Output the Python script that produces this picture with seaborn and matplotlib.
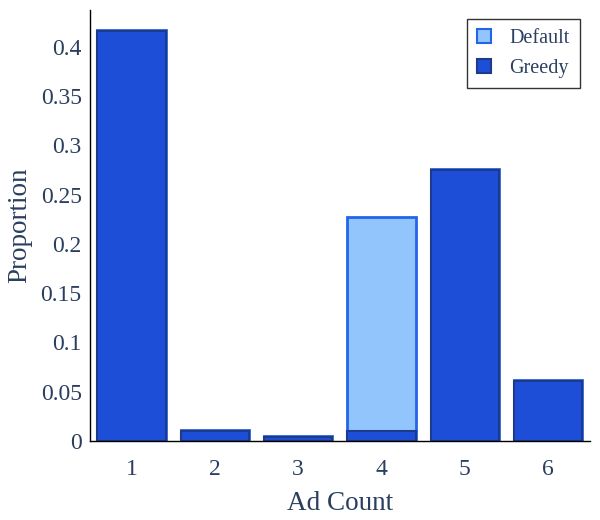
import matplotlib
matplotlib.use("Agg")
import matplotlib.pyplot as plt
import seaborn as sns
import pandas as pd
from matplotlib.patches import Patch

ad_counts = ["1", "2", "3", "4", "5", "6"]
default_vals = [0.417, 0.011, 0.005, 0.227, 0.276, 0.062]
greedy_vals = [0.416, 0.010, 0.004, 0.010, 0.275, 0.061]

sns.set_style("white")
plt.rcParams["font.family"] = ["Liberation Serif", "DejaVu Serif"]
text_color = "#2a3f5f"

fig = plt.figure(figsize=(6, 5.2), dpi=100)
ax = fig.add_axes([0.15, 0.152, 0.833, 0.829])

df_d = pd.DataFrame({"Ad Count": ad_counts, "Proportion": default_vals})
df_g = pd.DataFrame({"Ad Count": ad_counts, "Proportion": greedy_vals})

default_face, default_edge = "#93c5fd", "#2563eb"
greedy_face, greedy_edge = "#1d4ed8", "#1e3a8a"

sns.barplot(data=df_d, x="Ad Count", y="Proportion", order=ad_counts,
            color=default_face, edgecolor=default_edge, linewidth=2,
            width=0.82, saturation=1, ax=ax)
sns.barplot(data=df_g, x="Ad Count", y="Proportion", order=ad_counts,
            color=greedy_face, edgecolor=greedy_edge, linewidth=1.5,
            width=0.82, saturation=1, ax=ax)

ax.set_xlim(-0.5, 5.5)
ax.set_ylim(0, 0.4376)
ax.set_yticks([0, 0.05, 0.1, 0.15, 0.2, 0.25, 0.3, 0.35, 0.4])
ax.set_yticklabels(["0", "0.05", "0.1", "0.15", "0.2", "0.25", "0.3", "0.35", "0.4"])
ax.tick_params(axis="y", length=0, labelsize=17, colors=text_color, pad=6)
ax.tick_params(axis="x", length=0, labelsize=17, colors=text_color, pad=13)
ax.set_xlabel("Ad Count", fontsize=19.5, color=text_color, labelpad=8)
ax.set_ylabel("Proportion", fontsize=19.5, color=text_color, labelpad=6)

for s in ["top", "right"]:
    ax.spines[s].set_visible(False)
for s in ["left", "bottom"]:
    ax.spines[s].set_color("black")
    ax.spines[s].set_linewidth(1)

handles = [Patch(facecolor=default_face, edgecolor=default_edge, linewidth=1.5, label="Default"),
           Patch(facecolor=greedy_face, edgecolor=greedy_edge, linewidth=1.5, label="Greedy")]
leg = ax.legend(handles=handles, loc="upper right", bbox_to_anchor=(0.98, 0.979),
                borderaxespad=0,
                frameon=True, fancybox=False, fontsize=14.5, handlelength=0.7,
                handleheight=0.7, handletextpad=0.9, labelspacing=0.55,
                labelcolor=text_color, borderpad=0.5)
leg.get_frame().set_edgecolor("black")
leg.get_frame().set_linewidth(1)

fig.savefig("out.png", dpi=100)
